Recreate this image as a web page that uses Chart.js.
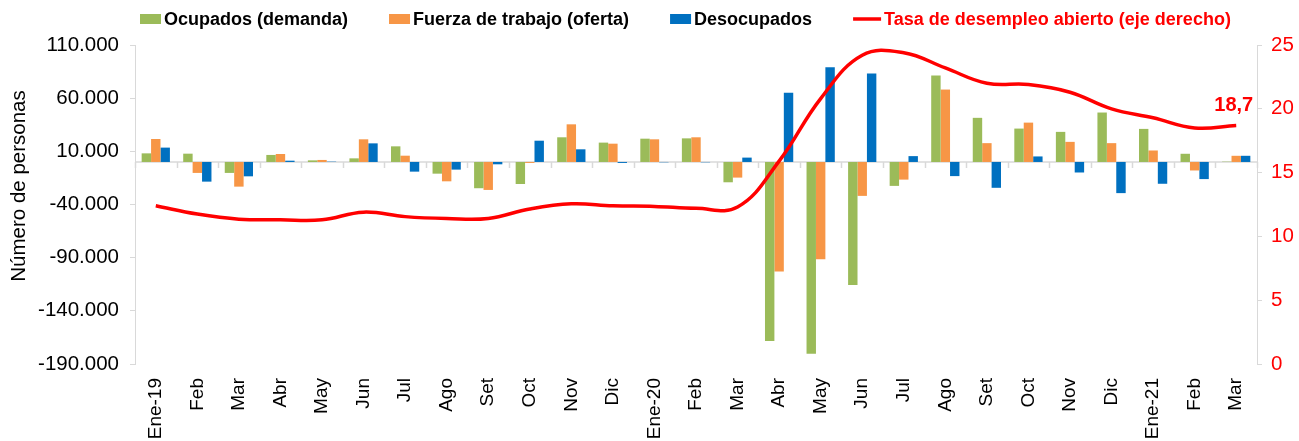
<!DOCTYPE html>
<html>
<head>
<meta charset="utf-8">
<script src="https://cdn.jsdelivr.net/npm/chart.js@4.4.1/dist/chart.umd.min.js"></script>
<style>
  html, body { margin: 0; padding: 0; background: #fff; }
  #wrap { width: 1299px; height: 441px; }
</style>
</head>
<body>
<div id="wrap"><canvas id="chart"></canvas></div>
<script>
const categories = ['Ene-19', 'Feb', 'Mar', 'Abr', 'May', 'Jun', 'Jul', 'Ago', 'Set', 'Oct', 'Nov', 'Dic',
  'Ene-20', 'Feb', 'Mar', 'Abr', 'May', 'Jun', 'Jul', 'Ago', 'Set', 'Oct', 'Nov', 'Dic',
  'Ene-21', 'Feb', 'Mar'];

const ocupados = [8100, 7800, -10300, 6600, 1500, 3400, 14700, -11000, -24700, -20700, 23200, 18200,
  21900, 22200, -19100, -168400, -180300, -115800, -22500, 81200, 41500, 31400, 28300, 46500,
  31100, 7700, 300];

const fuerzaTrabajo = [21600, -10300, -23200, 7500, 1900, 21300, 5900, -18200, -26300, -900, 35400, 17200,
  21300, 23200, -14700, -103000, -91400, -31900, -16600, 68100, 17700, 37000, 18900, 17700,
  10800, -8000, 5800];

const desocupados = [13500, -18500, -13500, 1200, 300, 17500, -9100, -7200, -2200, 20000, 11900, -900,
  -300, -300, 4100, 65100, 89100, 83100, 5500, -13300, -24300, 5200, -9900, -29300,
  -20500, -16100, 5800];

const tasaDesempleo = [12.4, 11.75, 11.35, 11.3, 11.3, 11.9, 11.55, 11.4, 11.4, 12.15, 12.55, 12.4,
  12.35, 12.2, 12.3, 15.9, 20.8, 24.2, 24.4, 23.2, 22.0, 21.9, 21.3, 20.0,
  19.3, 18.5, 18.7];

const RED = '#FF0000';
const GRAY = '#D9D9D9';
Chart.defaults.font.family = '"Liberation Sans", Arial, sans-serif';

const fmtMiles = v => (v < 0 ? '-' : '') + Math.abs(v).toString().replace(/\B(?=(\d{3})+(?!\d))/g, '.');

// zero line, legend, axis title and last value label
const extras = {
  id: 'extras',
  beforeDatasetsDraw(chart) {
    const { ctx, chartArea, scales } = chart;
    const y0 = scales.y.getPixelForValue(0);
    const step = chartArea.width / categories.length;
    ctx.save();
    ctx.strokeStyle = GRAY;
    ctx.lineWidth = 1.5;
    ctx.beginPath();
    ctx.moveTo(chartArea.left, y0);
    ctx.lineTo(chartArea.right, y0);
    for (let i = 0; i <= categories.length; i++) {
      const x = Math.round(chartArea.left + i * step) + 0.5;
      ctx.moveTo(x, y0);
      ctx.lineTo(x, y0 + 6);
    }
    ctx.stroke();
    ctx.restore();
  },
  afterDraw(chart) {
    const { ctx } = chart;
    ctx.save();
    // legend
    ctx.font = 'bold 18px "Liberation Sans", Arial, sans-serif';
    ctx.textBaseline = 'middle';
    let x = 140;
    const y = 19;
    chart.data.datasets.forEach(ds => {
      const isLine = ds.type === 'line';
      const w = isLine ? 28 : 21;
      if (isLine) {
        ctx.strokeStyle = ds.borderColor;
        ctx.lineWidth = 3.5;
        ctx.beginPath();
        ctx.moveTo(x, y);
        ctx.lineTo(x + w, y);
        ctx.stroke();
      } else {
        ctx.fillStyle = ds.backgroundColor;
        ctx.fillRect(x, y - 5, w, 10);
      }
      ctx.fillStyle = isLine ? RED : '#000';
      ctx.textAlign = 'left';
      ctx.fillText(ds.label, x + w + 3, y + 1);
      x += w + 3 + ctx.measureText(ds.label).width + 41;
    });

    // left axis title
    ctx.save();
    ctx.translate(19, 186);
    ctx.rotate(-Math.PI / 2);
    ctx.font = '20.5px "Liberation Sans", Arial, sans-serif';
    ctx.fillStyle = '#000';
    ctx.textAlign = 'center';
    ctx.fillText('Número de personas', 0, 0);
    ctx.restore();

    // last value of the rate
    const meta = chart.getDatasetMeta(3);
    const last = meta.data[meta.data.length - 1];
    ctx.font = 'bold 20px "Liberation Sans", Arial, sans-serif';
    ctx.fillStyle = RED;
    ctx.textAlign = 'right';
    ctx.textBaseline = 'middle';
    ctx.fillText(tasaDesempleo[tasaDesempleo.length - 1].toFixed(1).replace('.', ','), last.x + 17, last.y - 20);
    ctx.restore();
  }
};

new Chart(document.getElementById('chart'), {
  data: {
    labels: categories,
    datasets: [
      { type: 'bar', label: 'Ocupados (demanda)', data: ocupados, backgroundColor: '#9BBB59', yAxisID: 'y', order: 1 },
      { type: 'bar', label: 'Fuerza de trabajo (oferta)', data: fuerzaTrabajo, backgroundColor: '#F79646', yAxisID: 'y', order: 1 },
      { type: 'bar', label: 'Desocupados', data: desocupados, backgroundColor: '#0070C0', yAxisID: 'y', order: 1 },
      { type: 'line', label: 'Tasa de desempleo abierto (eje derecho)', data: tasaDesempleo, borderColor: RED,
        backgroundColor: RED, borderWidth: 3.5, pointRadius: 0, tension: 0.4, yAxisID: 'y1', order: 0 }
    ]
  },
  options: {
    responsive: true,
    maintainAspectRatio: false,
    animation: false,
    layout: { padding: { top: 45, left: 0, right: 0, bottom: 0 } },
    datasets: { bar: { categoryPercentage: 0.68, barPercentage: 1 } },
    plugins: { legend: { display: false }, tooltip: { enabled: false } },
    scales: {
      x: {
        grid: { display: false, drawTicks: false },
        border: { display: false },
        ticks: { autoSkip: false, minRotation: 90, maxRotation: 90, padding: 14, color: '#000', font: { size: 19 } },
        afterFit: s => { s.height = 77; }
      },
      y: {
        position: 'left',
        min: -190000,
        max: 110000,
        ticks: { stepSize: 50000, padding: 11, color: '#000', font: { size: 20.5 }, callback: v => fmtMiles(v) },
        grid: { drawOnChartArea: false, drawTicks: true, tickLength: 5, color: GRAY },
        border: { display: true, color: GRAY },
        afterFit: s => { s.width = 135; }
      },
      y1: {
        position: 'right',
        min: 0,
        max: 25,
        ticks: { stepSize: 5, padding: 9, color: RED, font: { size: 20.5 } },
        grid: { drawOnChartArea: false, drawTicks: true, tickLength: 5, color: GRAY },
        border: { display: true, color: GRAY },
        afterFit: s => { s.width = 42; }
      }
    }
  },
  plugins: [extras]
});
</script>
</body>
</html>
